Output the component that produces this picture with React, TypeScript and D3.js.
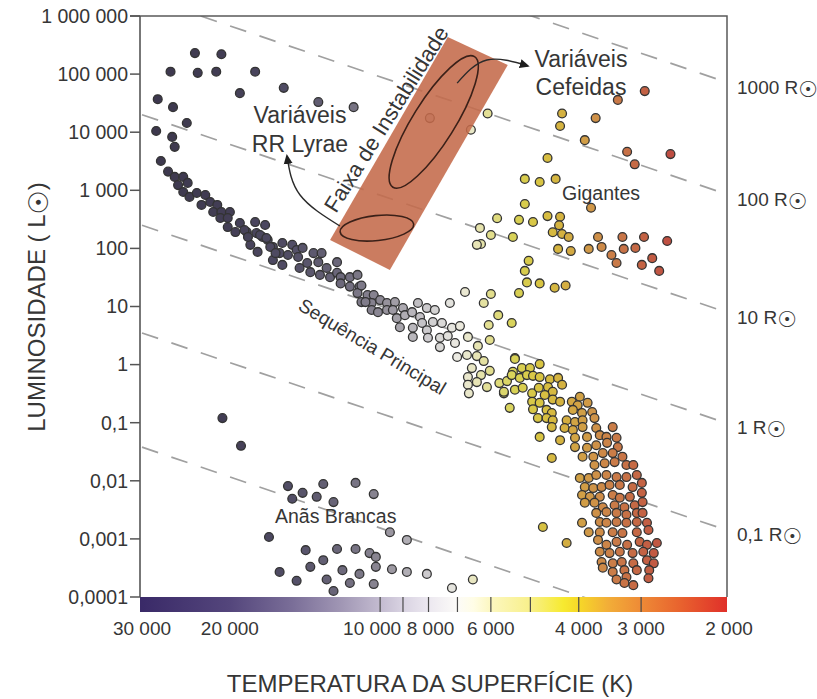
import * as d3 from "d3";

// ---- axes ----
const lumTicks = [1e6, 1e5, 1e4, 1e3, 100, 10, 1, 0.1, 0.01, 0.001, 0.0001];
const lumTickLabels = ["1 000 000", "100 000", "10 000", "1 000", "100", "10", "1", "0,1", "0,01", "0,001", "0,0001"];
const tempTicks = [30000, 20000, 10000, 8000, 6000, 4000, 3000, 2000];
const tempTickLabels = ["30 000", "20 000", "10 000", "8 000", "6 000", "4 000", "3 000", "2 000"];
const barDividers = [10000, 9000, 8000, 7000, 6000, 5000, 4000, 3000];

// constant radius lines: luminosity read at 30 000 K and at 2 000 K
const radiusLabels = ["1000 R", "100 R", "10 R", "1 R", "0,1 R", ""];
const radiusLum30000 = [1.9e8, 2.2e6, 2.0e4, 250, 3.5, 0.038];
const radiusLum2000 = [7.0e4, 830, 7.7, 0.095, 0.00137, 1.4e-5];

// colour bar + star colours by temperature
const barStopTemps = [30000, 20000, 15000, 12000, 10000, 9000, 8000, 7000, 6500, 6000, 5000, 4300, 4000, 3500, 3000, 2500, 2000];
const barStopColors = ["#3a2a68", "#54467c", "#7a6e98", "#a096b4", "#c3bbd0", "#d9d3e2", "#ece8f0", "#fcfbf8", "#fffde6", "#fcf7c0", "#f8f08a", "#f7ea30", "#f6d828", "#f2ae38", "#ee8a36", "#e8622e", "#e0302a"];
const pointStopTemps = [30000, 20000, 15000, 12000, 10000, 9000, 8000, 7000, 6500, 6000, 5400, 4800, 4300, 3800, 3400, 3000, 2600, 2000];
const pointStopColors = ["#3c374c", "#433e55", "#524e66", "#6c687a", "#8c8894", "#acA9b0", "#cecccf", "#ebeae2", "#e8e6c0", "#e2de8c", "#d8d256", "#d8c442", "#d4b040", "#d09848", "#ca7c48", "#c46444", "#be4c42", "#ba3434"];

// ---- stars [temperature K, luminosity Lsun] ----
const supergiants: [number, number][] = [
  [23500, 2.3e5], [20800, 2.2e5], [26300, 1.1e5], [23200, 1.05e5], [21300, 1.1e5], [17800, 1.1e5],
  [19100, 4.7e4], [27900, 3.7e4], [26000, 2.7e4], [24400, 1.44e4], [28100, 1.05e4], [26100, 8.3e3],
  [25800, 5.6e3], [27500, 3.2e3], [15600, 5.8e4], [13300, 3.3e4], [11300, 2.7e4],
];
const stripStars: [number, number][] = [[7950, 1.75e4], [6580, 1.1e4]];
const giants: [number, number][] = [
  [2950, 5.1e4], [3340, 3.6e4], [4320, 2.1e4], [4360, 1.28e4], [3700, 1.75e4], [3890, 7.3e3], [3200, 4.6e3],
  [3090, 2.8e3], [2620, 4.2e3], [4620, 3.6e3], [5130, 1.57e3], [4790, 1.39e3], [4450, 1.57e3], [3780, 500],
  [5130, 580], [5830, 330], [5270, 310], [4940, 285], [4620, 360], [4360, 350], [4380, 250], [4510, 190],
  [4320, 177], [4190, 157], [6000, 170], [5420, 157], [6310, 225], [6280, 119], [3660, 157], [3270, 157],
  [2960, 157], [2660, 134], [4400, 98], [4150, 90], [3820, 98], [3600, 106], [3440, 77], [3250, 98],
  [3080, 102], [2850, 68], [3360, 56], [2990, 52], [2760, 41], [5040, 61], [5130, 41], [5080, 26],
  [4790, 25], [4470, 21], [4250, 23], [6000, 16.4], [5270, 17], [6400, 115], [6090, 2.1e4],
];
const subgiants: [number, number][] = [
  [6760, 17.8], [7250, 11.5], [6200, 11.5], [5800, 7.1], [5450, 5.2], [6060, 4.8], [6920, 4.6], [6670, 3.0],
  [6030, 2.65], [6370, 2.1], [7010, 1.35], [6700, 1.46], [6400, 1.4], [6200, 1.15], [5370, 1.3], [4790, 1.02],
  [6550, 0.87], [6280, 0.66], [6030, 0.78], [6670, 0.61], [6400, 0.5], [6670, 0.45], [6110, 0.41],
  [6640, 0.32], [5770, 0.48], [5650, 0.32],
];
const upperMainSequence: [number, number][] = [
  [26600, 2.1e3], [25800, 1.7e3], [24800, 1.7e3], [25400, 1.23e3], [24300, 1.34e3], [24800, 935], [24100, 770],
  [23300, 900], [22400, 830], [22800, 560], [21900, 630], [21200, 560], [21600, 424], [20800, 424], [20000, 424],
  [20900, 333], [20200, 333], [20200, 233], [19500, 191], [19100, 274], [18500, 191], [17800, 284], [17000, 253],
  [17700, 184], [17200, 157], [18200, 115], [17600, 87], [16800, 140], [16400, 106], [15900, 83], [16400, 63],
  [15700, 52], [15700, 124], [15000, 115], [14700, 94], [14300, 102], [15300, 77], [14600, 71], [14500, 46],
  [14000, 56], [13600, 83], [13100, 83], [13300, 58], [12800, 46], [12200, 58], [13800, 39], [13200, 35],
  [12600, 32], [12200, 38], [12000, 32], [11500, 32], [11100, 35], [12000, 25], [11500, 22], [11000, 22],
  [10600, 15.8], [10300, 15.8], [11100, 17], [10900, 11.9], [10400, 11.5], [18700, 207], [17400, 170],
  [18400, 157], [16900, 151], [16600, 106], [16200, 83], [10900, 23], [10700, 11.9], [10000, 12.9],
  [9690, 11.5], [9340, 11.9], [10400, 8.7], [10100, 8.0], [9690, 8.7], [9430, 8.7], [9260, 6.3], [9000, 9.4],
  [8920, 7.1], [8630, 8.0], [8400, 11.5], [8060, 9.4], [7770, 8.7], [8320, 6.6], [9130, 4.4], [8600, 4.3],
  [8240, 5.2], [8060, 3.9], [7840, 5.4], [7520, 5.2], [7180, 4.3], [8600, 3.0], [8020, 2.9], [7590, 2.9],
  [7320, 3.1], [7080, 2.35], [7590, 2.0],
];
const lowerMainSequence: [number, number][] = [
  [5370, 1.25], [5420, 0.75], [5200, 0.87], [5010, 0.87], [5570, 0.52], [5450, 0.66], [5250, 0.59], [5080, 0.66],
  [4940, 0.64], [4790, 0.61], [4570, 0.56], [4400, 0.59], [4320, 0.45], [5650, 0.34], [5370, 0.37], [5180, 0.4],
  [4960, 0.32], [4810, 0.4], [4610, 0.41], [4510, 0.34], [4680, 0.3], [4510, 0.25], [4360, 0.23], [4960, 0.23],
  [4790, 0.22], [5500, 0.18], [4940, 0.17], [4640, 0.166], [4530, 0.147], [4830, 0.12], [4640, 0.12],
  [4510, 0.11], [4530, 0.084], [4790, 0.057], [4360, 0.05],
  [4130, 0.23], [3980, 0.28], [4020, 0.2], [3840, 0.22], [3760, 0.153], [4110, 0.166], [3940, 0.147],
  [4230, 0.11], [4070, 0.103], [3930, 0.11], [3720, 0.12], [4270, 0.081], [4110, 0.075], [3930, 0.084],
  [3690, 0.081], [3420, 0.084], [4070, 0.055], [3850, 0.057], [3630, 0.061], [3520, 0.057], [3360, 0.055],
  [4070, 0.038], [3850, 0.037], [3690, 0.041], [3510, 0.045], [3340, 0.038], [3930, 0.026], [3740, 0.026],
  [3580, 0.03], [3420, 0.03], [3270, 0.026], [3720, 0.0187], [3550, 0.02], [3390, 0.021], [3210, 0.0187],
  [3110, 0.0187], [3980, 0.0112], [3820, 0.0112], [3690, 0.0126], [3520, 0.0126], [3360, 0.0116],
  [3210, 0.0116], [3060, 0.0126], [3890, 0.0078], [3740, 0.0075], [3600, 0.0078], [3470, 0.0085],
  [3310, 0.0085], [3120, 0.0078], [2990, 0.0092], [3940, 0.0057], [3800, 0.0053], [3630, 0.0053],
  [3420, 0.0057], [3310, 0.0051], [3160, 0.0053], [2990, 0.0062], [3890, 0.0042], [3720, 0.0042],
  [3580, 0.0035], [3390, 0.0038], [3240, 0.0035], [3090, 0.0038], [2980, 0.0043], [3690, 0.0028],
  [3520, 0.0029], [3360, 0.0028], [3210, 0.0026], [3060, 0.0028], [2980, 0.0028], [3940, 0.0019],
  [3820, 0.0013], [3630, 0.00195], [3520, 0.0019], [3360, 0.00195], [3210, 0.0019], [3060, 0.00195],
  [2920, 0.0019], [3630, 0.0013], [3420, 0.0013], [3270, 0.00126], [3060, 0.0013], [2900, 0.00142],
  [3660, 0.00096], [3520, 0.00079], [3360, 0.00089], [3200, 0.00079], [3020, 0.00089], [2920, 0.00079],
  [2790, 0.00085], [3630, 0.0006], [3470, 0.00057], [3310, 0.0006], [3120, 0.00057], [2970, 0.0006],
  [2830, 0.00057], [3600, 0.0004], [3420, 0.00038], [3280, 0.0004], [3110, 0.00038], [2920, 0.00043],
  [2830, 0.00038], [3580, 0.00032], [3420, 0.00027], [3240, 0.00029], [3060, 0.00029], [2890, 0.00029],
  [3360, 0.0002], [3210, 0.00022], [3240, 0.000174], [3110, 0.00016], [2900, 0.00021],
  [4530, 0.0247], [4720, 0.0016], [4230, 0.00085],
];
const whiteDwarfs: [number, number][] = [
  [15300, 0.0081], [13000, 0.0088], [11200, 0.0092], [14300, 0.0062], [13400, 0.0053], [15000, 0.0049],
  [12400, 0.0043], [10300, 0.0059], [9560, 0.0013], [8840, 0.00096], [16700, 0.00108], [14100, 0.00064],
  [12200, 0.00067], [11200, 0.00067], [10500, 0.00057], [10200, 0.00049], [13000, 0.00043], [13800, 0.00033],
  [15900, 0.00027], [11900, 0.00029], [11000, 0.00025], [10200, 0.00033], [9470, 0.0003], [8840, 0.00027],
  [8060, 0.00025], [14700, 0.00019], [12800, 0.0002], [11500, 0.000174], [10300, 0.000167], [12400, 0.000127],
  [7180, 0.000143], [6520, 0.0002], [20700, 0.12], [19000, 0.04],
];

// instability strip corners and annotation anchors [T, L]
const stripCorners: [number, number][] = [[7320, 4.35e5], [5550, 1.44e5], [9560, 42.5], [12600, 140]];
const cepheidCentre: [number, number] = [7810, 1.5e4];
const rrLyraeCentre: [number, number] = [10150, 224];
const rrArrow: [number, number][] = [[12040, 243], [14470, 830], [15370, 3.9e3]];
const cepheidArrow: [number, number][] = [[7010, 7.0e4], [6110, 1.75e5], [5060, 1.38e5]];

const L = 140, R = 727, T = 16, B = 597;
const FONT = "'Liberation Sans', Arial, Helvetica, sans-serif";
const INK = "#363636";

// small nudges so the crowded 10 000 / 8 000 labels don't touch
const tickNudge = (t: number) => (t === 10000 ? -8 : t === 8000 ? 2 : 0);

export default function App() {
  const x = d3.scaleLog().domain([30000, 2000]).range([142, 729]);
  const y = d3.scaleLog().domain([1e-4, 1e6]).range([B, T]);
  const pointColor = d3.scaleLog<string>().domain(pointStopTemps).range(pointStopColors).clamp(true);
  const line = d3.line<[number, number]>().x(d => x(d[0])).y(d => y(d[1]));
  const curve = d3.line<[number, number]>().x(d => x(d[0])).y(d => y(d[1])).curve(d3.curveNatural);

  const stars = [...supergiants, ...upperMainSequence, ...stripStars, ...subgiants, ...giants, ...lowerMainSequence, ...whiteDwarfs];
  const sun = (size: number, dy: number) => (
    <tspan fontFamily="'DejaVu Sans'" fontSize={size} dy={dy}>☉</tspan>
  );

  return (
    <svg width={817} height={699} style={{ position: "absolute", left: 0, top: 0 }} fontFamily={FONT}>
      <defs>
        <clipPath id="plot"><rect x={L} y={T} width={R - L} height={B - T} /></clipPath>
        <linearGradient id="tempBar" x1="0" x2="1" y1="0" y2="0">
          {barStopTemps.map((t, i) => (
            <stop key={t} offset={Math.max(0, Math.min(1, (x(t) - L) / (R - L)))} stopColor={barStopColors[i]} />
          ))}
        </linearGradient>
        <marker id="head" viewBox="0 0 10 10" refX="8" refY="5" markerWidth="10" markerHeight="10"
          markerUnits="userSpaceOnUse" orient="auto">
          <path d="M0,0.5 L10,5 L0,9.5 Z" fill="#1e1e1e" />
        </marker>
      </defs>

      <rect width={817} height={699} fill="#fff" />

      <g clipPath="url(#plot)">
        {radiusLum30000.map((l0, i) => (
          <path key={i} d={line([[30000, l0], [2000, radiusLum2000[i]]]) || ""} fill="none"
            stroke="#a0a0a0" strokeWidth={1.7} strokeDasharray="17 14" />
        ))}
        {stars.map((s, i) => (
          <circle key={i} cx={x(s[0])} cy={y(s[1])} r={4.4} fill={pointColor(s[0])}
            stroke="#333" strokeWidth={1.3} />
        ))}
        <path d={line(stripCorners) + "Z"} fill="#c46a4a" fillOpacity={0.88} />
        <ellipse cx={x(cepheidCentre[0])} cy={y(cepheidCentre[1])} rx={77} ry={21}
          transform={`rotate(-58 ${x(cepheidCentre[0])} ${y(cepheidCentre[1])})`}
          fill="none" stroke="#3b2018" strokeWidth={1.6} />
        <ellipse cx={x(rrLyraeCentre[0])} cy={y(rrLyraeCentre[1])} rx={37} ry={12.5}
          transform={`rotate(-6 ${x(rrLyraeCentre[0])} ${y(rrLyraeCentre[1])})`}
          fill="none" stroke="#3b2018" strokeWidth={1.6} />
      </g>

      <path d={curve(rrArrow) || ""} fill="none" stroke="#2a2a2a" strokeWidth={1.4} markerEnd="url(#head)" />
      <path d={curve(cepheidArrow) || ""} fill="none" stroke="#2a2a2a" strokeWidth={1.4} markerEnd="url(#head)" />

      {/* frame */}
      <path d={`M${L - 10},${T}H${R}V${B}`} fill="none" stroke="#5a5a5a" strokeWidth={1.5} />
      <line x1={L} x2={L} y1={T} y2={B} stroke="#555" strokeWidth={1.6} />

      {/* temperature colour bar */}
      <rect x={L} y={B} width={R - L} height={15} fill="url(#tempBar)" />
      {barDividers.map(t => (
        <line key={t} x1={x(t)} x2={x(t)} y1={B} y2={B + 15} stroke="#4a4a4a" strokeWidth={1.2} />
      ))}

      {/* y axis */}
      {lumTicks.map((v, i) => (
        <g key={v}>
          <line x1={L - 10} x2={L} y1={y(v)} y2={y(v)} stroke="#555" strokeWidth={1.5} />
          <text x={L - 12} y={y(v)} dy="0.35em" textAnchor="end" fontSize={19.5} fill={INK}>{lumTickLabels[i]}</text>
        </g>
      ))}
      <text transform="translate(45,307) rotate(-90)" textAnchor="middle" fontSize={24} fill={INK}>
        LUMINOSIDADE ( L{sun(27, 3)}<tspan dy={-3}>)</tspan>
      </text>

      {/* x axis */}
      {tempTicks.map((t, i) => (
        <text key={t} x={x(t) + tickNudge(t)} y={635} textAnchor="middle" fontSize={19} fill={INK}>
          {tempTickLabels[i]}
        </text>
      ))}
      <text x={430} y={692} textAnchor="middle" fontSize={24} fill={INK}>TEMPERATURA DA SUPERFÍCIE (K)</text>

      {/* radius labels */}
      {radiusLabels.map((lab, i) => lab && (
        <text key={lab} x={737} y={y(radiusLum2000[i]) + 10.5} fontSize={19} fill={INK}>
          {lab}{sun(22, 3)}
        </text>
      ))}

      {/* annotations */}
      <text x={300} y={123} textAnchor="middle" fontSize={23} fill={INK}>Variáveis</text>
      <text x={300} y={152} textAnchor="middle" fontSize={23} fill={INK}>RR Lyrae</text>
      <text x={581} y={67} textAnchor="middle" fontSize={23} fill={INK}>Variáveis</text>
      <text x={581} y={95} textAnchor="middle" fontSize={23} fill={INK}>Cefeidas</text>
      <text x={562} y={200} fontSize={19.5} fill={INK}>Gigantes</text>
      <text x={275} y={523} fontSize={19.5} fill={INK}>Anãs Brancas</text>
      <text transform="translate(297,309) rotate(31)" fontSize={19} fill={INK}>Sequência Principal</text>
      <text transform="translate(336,214) rotate(-58)" fontSize={22} fill={INK}>Faixa de Instabilidade</text>
    </svg>
  );
}
